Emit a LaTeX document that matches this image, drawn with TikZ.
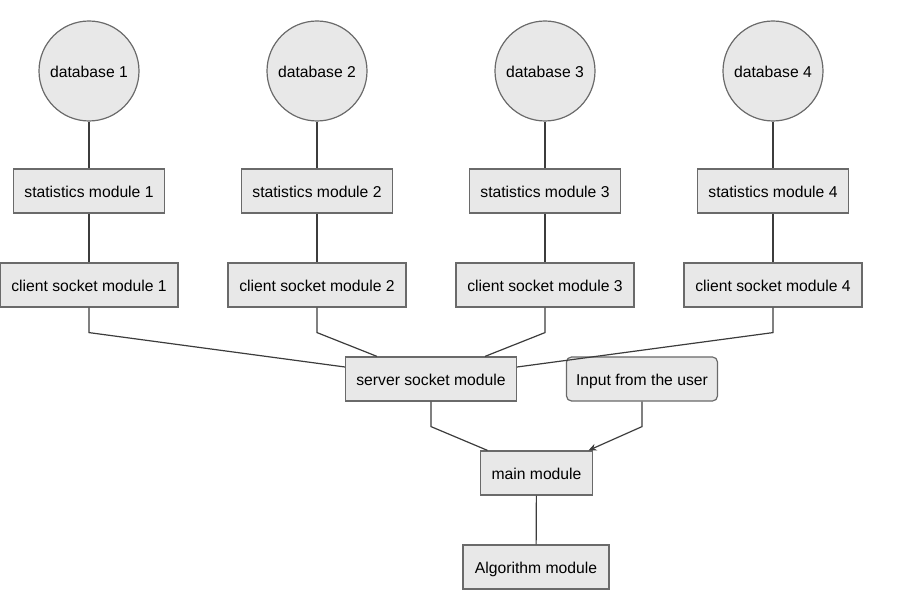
\documentclass[tikz,border=0pt]{standalone}
\usepackage{fontspec}
\setmainfont{Liberation Sans}
\usetikzlibrary{arrows.meta}
\definecolor{boxfill}{HTML}{E8E8E8}
\definecolor{boxline}{HTML}{6A6A6A}
\definecolor{wire}{HTML}{3C3C3C}
\begin{document}
\begin{tikzpicture}[
    x = 1pt,
    y = -1pt,
    >={Stealth[length=8pt, width=7pt]},
    every node/.style = {font=\fontsize{15.7}{18}\selectfont,
              text height=14.5pt, text depth=1.5pt},
    db/.style = {circle, draw=boxline, fill=boxfill, line width=1.2pt,
              minimum size=100pt, inner sep=0pt},
    module/.style = {rectangle, draw=boxline, fill=boxfill, line width=1.2pt,
              minimum height=44pt, inner sep=0pt},
    wire/.style = {draw=wire, line width=1.2pt},
    ]

\useasboundingbox (0,0) rectangle (902,609);

\node[db] (db_1) at (89,71){database 1};
\node[db] (db_2) at (317,71){database 2};
\node[db] (db_3) at (545,71){database 3};
\node[db] (db_4) at (773,71){database 4};

\node[module, minimum width=151pt] (stat_1) at (89,191){statistics module 1};
\node[module, minimum width=151pt] (stat_2) at (317,191){statistics module 2};
\node[module, minimum width=151pt] (stat_3) at (545,191){statistics module 3};
\node[module, minimum width=151pt] (stat_4) at (773,191){statistics module 4};

\node[module, minimum width=178pt] (client_1) at (89,285){client socket module 1};
\node[module, minimum width=178pt] (client_2) at (317,285){client socket module 2};
\node[module, minimum width=178pt] (client_3) at (545,285){client socket module 3};
\node[module, minimum width=178pt] (client_4) at (773,285){client socket module 4};

\node[module, minimum width=171pt] (server) at (431,379){server socket module};
\node[module, minimum width=151pt, rounded corners=5pt] (input) at (642,379){Input from the user};
\node[module, minimum width=112pt] (main) at (536.5,473){main module};
\node[module, minimum width=146pt] (algo) at (536,567){Algorithm module};

\draw [wire] (db_1) -- (stat_1);
\draw [wire] (db_2) -- (stat_2);
\draw [wire] (db_3) -- (stat_3);
\draw [wire] (db_4) -- (stat_4);
\draw [wire] (stat_1) -- (client_1);
\draw [wire] (stat_2) -- (client_2);
\draw [wire] (stat_3) -- (client_3);
\draw [wire] (stat_4) -- (client_4);

\draw [wire] (client_1.south) -- ++(0,25) -- ([yshift=12pt]server.west);
\draw [wire] (client_2.south) -- ++(0,25) -- ([xshift=-54pt]server.north);
\draw [wire] (client_3.south) -- ++(0,25) -- ([xshift=54pt]server.north);
\draw [wire] (client_4.south) -- ++(0,25) -- ([yshift=12pt]server.east);

\draw [wire] (server.south) -- ++(0,25) -- ([xshift=-49pt]main.north);
\draw [->, wire] (input.south) -- ++(0,25) -- ([xshift=52pt]main.north);
\draw [wire] (main) -- (algo);

\end{tikzpicture}
\end{document}
